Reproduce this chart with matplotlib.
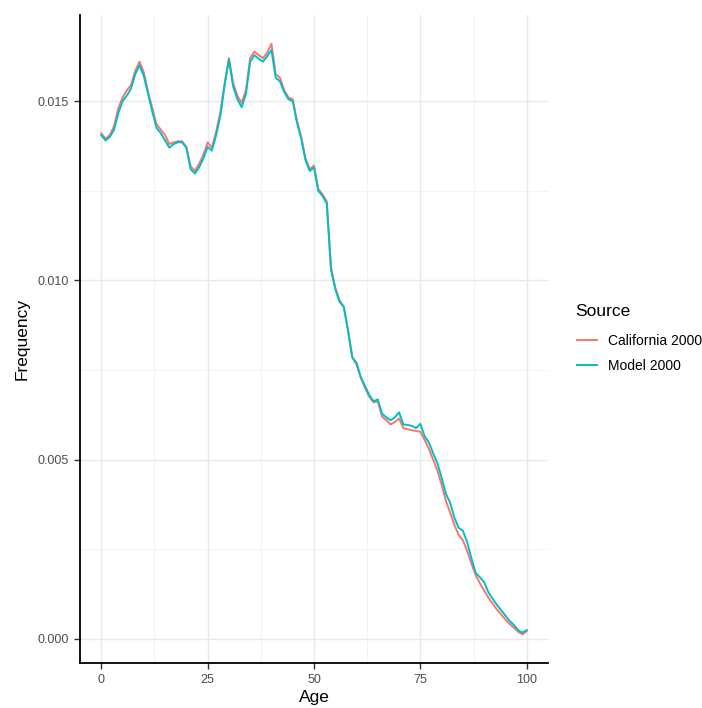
import matplotlib.pyplot as plt
import numpy as np
from matplotlib.ticker import MultipleLocator

ages = np.arange(0, 101)

california_2000 = [
    0.01410, 0.01395, 0.01405, 0.01430, 0.01480, 0.01510, 0.01530, 0.01545, 0.01585, 0.01610,
    0.01580, 0.01525, 0.01480, 0.01435, 0.01420, 0.01405, 0.01380, 0.01385, 0.01388, 0.01388,
    0.01372, 0.01318, 0.01305, 0.01325, 0.01350, 0.01385, 0.01370, 0.01415, 0.01470, 0.01550,
    0.01620, 0.01550, 0.01515, 0.01495, 0.01530, 0.01620, 0.01638, 0.01628, 0.01620, 0.01635,
    0.01660, 0.01575, 0.01565, 0.01530, 0.01510, 0.01505, 0.01445, 0.01400, 0.01340, 0.01310,
    0.01320, 0.01255, 0.01240, 0.01220, 0.01035, 0.00980, 0.00945, 0.00925, 0.00860, 0.00785,
    0.00765, 0.00728, 0.00700, 0.00675, 0.00660, 0.00662, 0.00620, 0.00610, 0.00598, 0.00605,
    0.00615, 0.00588, 0.00585, 0.00582, 0.00580, 0.00578, 0.00555, 0.00530, 0.00500, 0.00470,
    0.00430, 0.00385, 0.00352, 0.00318, 0.00290, 0.00275, 0.00245, 0.00210, 0.00178, 0.00155,
    0.00135, 0.00115, 0.00098, 0.00082, 0.00068, 0.00054, 0.00042, 0.00031, 0.00020, 0.00013,
    0.00022,
]

model_2000 = [
    0.01405, 0.01390, 0.01400, 0.01420, 0.01466, 0.01500, 0.01515, 0.01535, 0.01575, 0.01600,
    0.01570, 0.01520, 0.01470, 0.01425, 0.01410, 0.01390, 0.01370, 0.01380, 0.01385, 0.01385,
    0.01370, 0.01310, 0.01298, 0.01315, 0.01340, 0.01372, 0.01362, 0.01405, 0.01460, 0.01545,
    0.01615, 0.01540, 0.01505, 0.01483, 0.01520, 0.01610, 0.01628, 0.01618, 0.01610, 0.01625,
    0.01642, 0.01565, 0.01555, 0.01525, 0.01505, 0.01500, 0.01440, 0.01395, 0.01335, 0.01305,
    0.01315, 0.01250, 0.01235, 0.01215, 0.01030, 0.00975, 0.00940, 0.00927, 0.00860, 0.00785,
    0.00770, 0.00730, 0.00705, 0.00680, 0.00663, 0.00668, 0.00628, 0.00618, 0.00610, 0.00618,
    0.00632, 0.00598, 0.00597, 0.00594, 0.00588, 0.00600, 0.00565, 0.00548, 0.00518, 0.00490,
    0.00450, 0.00405, 0.00380, 0.00338, 0.00310, 0.00302, 0.00270, 0.00225, 0.00185, 0.00172,
    0.00158, 0.00130, 0.00112, 0.00095, 0.00080, 0.00065, 0.00050, 0.00039, 0.00024, 0.00018,
    0.00025,
]

series_names = ["California 2000", "Model 2000"]
series_colors = ["#F8766D", "#00BFC4"]


def main() -> None:
    plt.rcParams["font.family"] = ["Liberation Sans", "DejaVu Sans"]
    fig = plt.figure(figsize=(7.02, 7.08), dpi=100, facecolor="white")
    ax = fig.add_axes([80 / 702, 45 / 708, 468 / 702, 648 / 708])

    for values, name, color in zip([california_2000, model_2000], series_names, series_colors):
        ax.plot(ages, values, color=color, lw=1.4, label=name)

    ax.set_xlim(-5, 105)
    ax.set_ylim(-0.00067, 0.0174)
    ax.xaxis.set_major_locator(MultipleLocator(25))
    ax.xaxis.set_minor_locator(MultipleLocator(12.5))
    ax.yaxis.set_major_locator(MultipleLocator(0.005))
    ax.yaxis.set_minor_locator(MultipleLocator(0.0025))
    ax.yaxis.set_major_formatter(plt.FuncFormatter(lambda v, p: f"{v:.3f}"))

    ax.grid(which="major", color="#E6EAEA", lw=1.0)
    ax.grid(which="minor", color="#F0F2F2", lw=0.6)
    ax.set_axisbelow(True)

    for side in ["top", "right"]:
        ax.spines[side].set_visible(False)
    for side in ["left", "bottom"]:
        ax.spines[side].set_color("black")
        ax.spines[side].set_linewidth(1.3)

    ax.tick_params(which="major", length=4, width=1.0, color="#333333",
                   labelcolor="#4D4D4D", labelsize=9, pad=4)
    ax.tick_params(which="minor", length=0)

    ax.set_xlabel("Age", fontsize=12.5, labelpad=3)
    ax.set_ylabel("Frequency", fontsize=12.5, labelpad=6)

    # legend title drawn on its own so the gap to the keys matches
    fig.text(575 / 702, 1 - 311 / 708, "Source", fontsize=12.5, ha="left", va="center")
    fig.legend(
        loc="center left",
        bbox_to_anchor=(577 / 702, 1 - 353.5 / 708),
        frameon=False,
        fontsize=10,
        handlelength=1.45,
        handletextpad=0.8,
        labelspacing=0.82,
        borderpad=0,
        borderaxespad=0,
    )

    fig.savefig("out.png", dpi=100, facecolor="white")
    plt.close(fig)


if __name__ == "__main__":
    main()
